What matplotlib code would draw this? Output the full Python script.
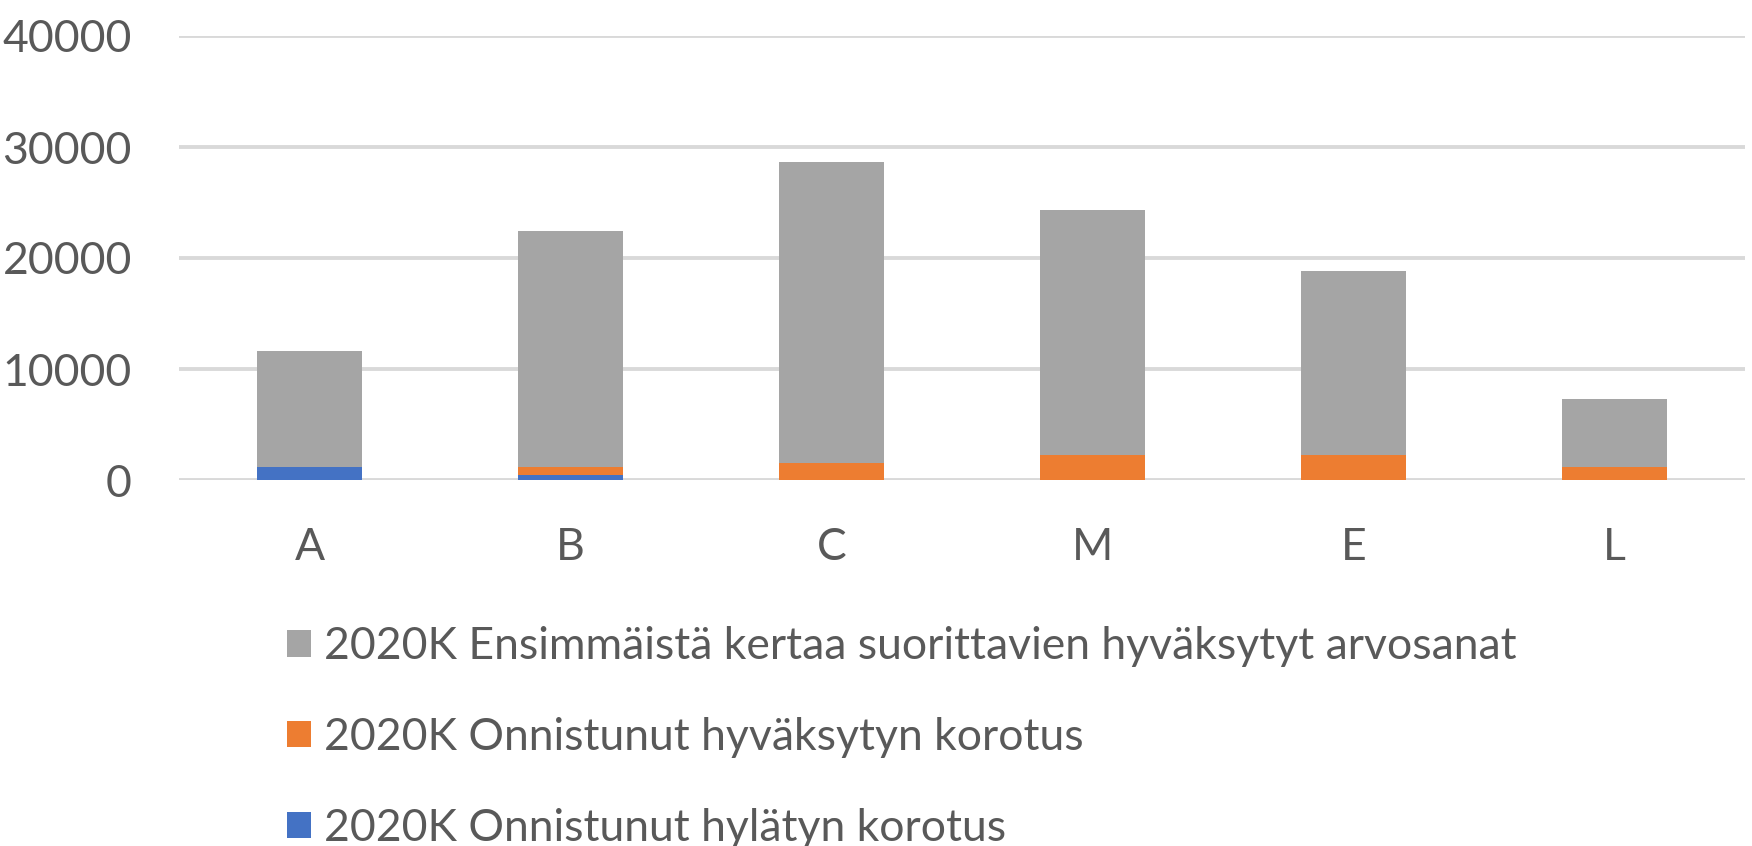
import matplotlib
matplotlib.use("Agg")
import matplotlib.pyplot as plt
import numpy as np

plt.rcParams['font.family'] = ['Lato', 'DejaVu Sans']

kategoriat = ["A", "B", "C", "M", "E", "L"]
hylatyn_korotus = [1170, 450, 0, 0, 0, 0]
hyvaksytyn_korotus = [0, 720, 1530, 2250, 2250, 1170]
ensimmaiset = [10450, 21260, 27120, 22070, 16580, 6130]

nimet = [
    "2020K Ensimmäistä kertaa suorittavien hyväksytyt arvosanat",
    "2020K Onnistunut hyväksytyn korotus",
    "2020K Onnistunut hylätyn korotus",
]
varit = ["#A5A5A5", "#ED7D31", "#4472C4"]
tekstin_vari = "#595959"

fig = plt.figure(figsize=(17.52, 8.46), dpi=100)
ax = fig.add_axes([179 / 1752, 1 - 480 / 846, 1566 / 1752, 444 / 846])

x = np.arange(len(kategoriat))
sin = np.array(hylatyn_korotus)
ora = np.array(hyvaksytyn_korotus)
har = np.array(ensimmaiset)

leveys = 0.4
p_sin = ax.bar(x, sin, leveys, color=varit[2], zorder=3)
p_ora = ax.bar(x, ora, leveys, bottom=sin, color=varit[1], zorder=3)
p_har = ax.bar(x, har, leveys, bottom=sin + ora, color=varit[0], zorder=3)

ax.set_xlim(-0.5, len(kategoriat) - 0.5)
ax.set_ylim(0, 40000)
ax.set_yticks([0, 10000, 20000, 30000, 40000])
ax.set_xticks(x)
ax.set_xticklabels(kategoriat)
ax.yaxis.grid(True, color="#D9D9D9", linewidth=2.8, zorder=0)
ax.set_axisbelow(True)
for s in ax.spines.values():
    s.set_visible(False)
ax.tick_params(axis="both", length=0, labelsize=32, labelcolor=tekstin_vari)
ax.tick_params(axis="x", pad=34)
ax.tick_params(axis="y", pad=34)

fig.legend([p_har, p_ora, p_sin], nimet,
           loc="upper left", bbox_to_anchor=(287 / 1752, 1 - 626 / 846),
           frameon=False, fontsize=32, labelcolor=tekstin_vari,
           borderpad=0, borderaxespad=0, labelspacing=1.12,
           handlelength=0.54, handleheight=0.54, handletextpad=0.3)

fig.savefig("out.png", dpi=100)
